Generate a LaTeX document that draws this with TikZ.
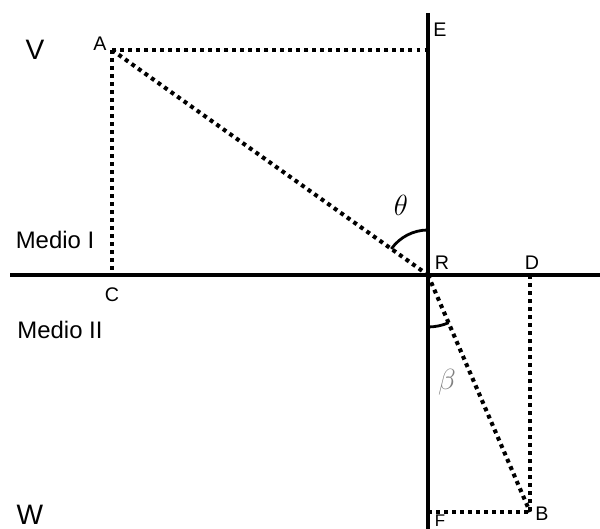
\documentclass[tikz,border=0pt]{standalone}
\usepackage{fontspec}
\setmainfont{Liberation Sans}
\usetikzlibrary{calc}
\tikzset{
  axisline/.style={line width=2.2pt},
  dotline/.style={line width=2.9pt,dash pattern=on 2.8pt off 2.9pt},
  anglearc/.style={line width=2pt},
  ptlabel/.style={font=\fontsize{14}{16}\selectfont,inner sep=0pt},
  medlabel/.style={font=\fontsize{17}{20}\selectfont,inner sep=0pt}
}
\begin{document}
\begin{tikzpicture}
  \useasboundingbox (0,0) rectangle (15,13.225);
  % points
  \coordinate (R) at (10.7,6.35);
  \coordinate (A) at (2.8,11.975);
  \coordinate (E) at (10.7,11.975);
  \coordinate (C) at (2.8,6.35);
  \coordinate (D) at (13.25,6.35);
  \coordinate (B) at (13.25,0.425);
  \coordinate (F) at (10.7,0.425);
  \coordinate (left) at (0.25,6.35);
  \coordinate (right) at (15,6.35);
  \coordinate (top) at (10.7,12.9);
  \coordinate (bottom) at (10.7,0);
  % interface and normal
  \draw[axisline] (left) -- (right);
  \draw[axisline] (top) -- (bottom);
  % projections
  \draw[dotline] (A) -- (E);
  \draw[dotline] (A) -- (C);
  \draw[dotline] (A) -- (R);
  \draw[dotline] (R) -- (B);
  \draw[dotline] (D) -- (B);
  \draw[dotline] (F) -- (B);
  % angles
  \draw[anglearc] ($(R)+(90:1.125)$) arc[start angle=90,end angle=144.6,radius=1.125];
  \draw[anglearc] ($(R)+(270:1.3)$) arc[start angle=270,end angle=293.3,radius=1.3];
  % labels
  \node[font=\fontsize{20}{24}\selectfont,inner sep=0pt] (lV) at (0.875,11.975) {V};
  \node[font=\fontsize{20}{24}\selectfont,inner sep=0pt] (lW) at (0.75,0.35) {W};
  \node[ptlabel] (lA) at (2.5,12.125) {A};
  \node[ptlabel] (lE) at (11.0,12.475) {E};
  \node[ptlabel] (lC) at (2.8,5.85) {C};
  \node[ptlabel] (lR) at (11.05,6.65) {R};
  \node[ptlabel] (lD) at (13.3,6.65) {D};
  \node[ptlabel,font=\fontsize{12}{14}\selectfont] (lF) at (11.0,0.2) {F};
  \node[ptlabel] (lB) at (13.55,0.375) {B};
  \node[medlabel] (m1) at (1.375,7.225) {Medio I};
  \node[medlabel] (m2) at (1.5,4.975) {Medio II};
  \node[font=\fontsize{20}{24}\selectfont,inner sep=0pt] (theta) at (10.025,8.1) {$\theta$};
  \node[font=\fontsize{22}{26}\selectfont,inner sep=0pt,text=gray] (beta) at (11.175,3.675) {$\beta$};
\end{tikzpicture}
\end{document}
